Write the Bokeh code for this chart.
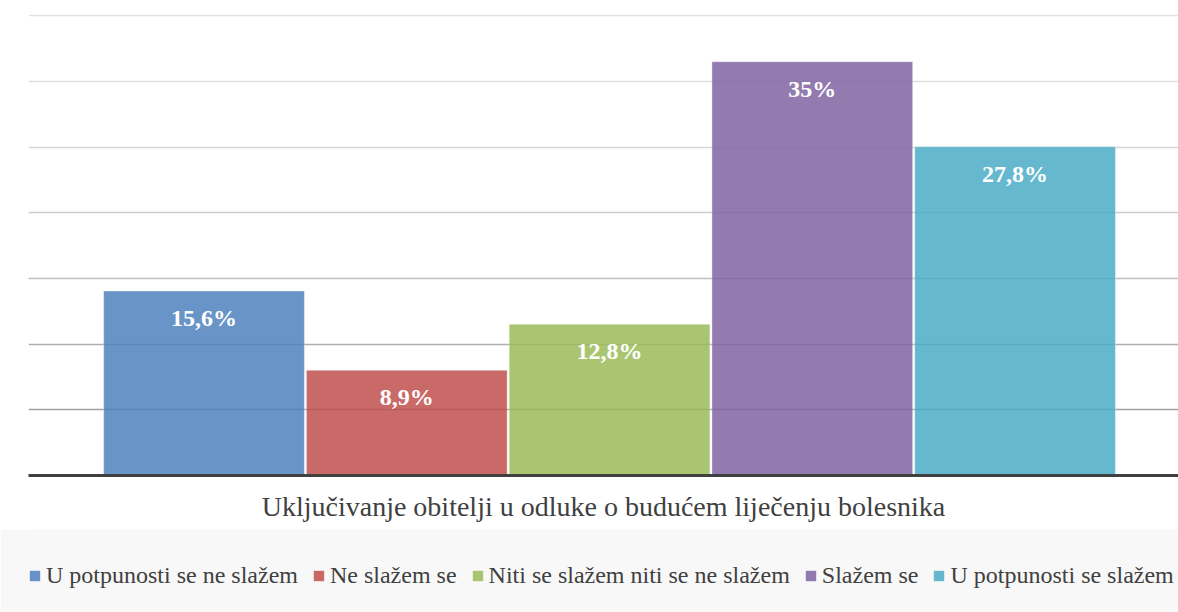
from bokeh.plotting import figure
from bokeh.models import ColumnDataSource, Range1d, FixedTicker, Grid
from bokeh.layouts import column
from bokeh.core.properties import value
from bokeh.embed import file_html
from bokeh.resources import INLINE

# ---- data ----
categories = ["U potpunosti se ne slažem", "Ne slažem se", "Niti se slažem niti se ne slažem",
              "Slažem se", "U potpunosti se slažem"]
percents = [15.6, 8.9, 12.8, 35.0, 27.8]
labels = ["15,6%", "8,9%", "12,8%", "35%", "27,8%"]
grid_ticks = [5.56, 11.11, 16.67, 22.22, 27.78, 33.33, 38.89]
title_text = "Uključivanje obitelji u odluke o budućem liječenju bolesnika"

# ---- styles ----
colors = ["#4F81BD", "#C0504D", "#9BBB59", "#8064A2", "#4BACC6"]
grid_colors = ["#a2a2a2", "#aeaeae", "#c0c0c0", "#cccccc", "#d6d6d6", "#dedede", "#e3e3e3"]
SERIF = "Liberation Serif"
TXT = "#404040"

src = ColumnDataSource(dict(x=list(range(len(categories))), y=percents, cat=categories,
                            lab=labels, color=colors))

p = figure(width=1178, height=529, output_backend="svg", toolbar_location=None,
           x_range=Range1d(-0.8656, 4.806), y_range=Range1d(0, 39.5),
           y_axis_location=None,
           min_border_left=28, min_border_right=0, min_border_top=8, min_border_bottom=54)
p.outline_line_color = None
p.xgrid.visible = False
p.ygrid.visible = False

for t, c in zip(grid_ticks, grid_colors):
    g = Grid(dimension=1, ticker=FixedTicker(ticks=[t]), grid_line_color=c, grid_line_width=1.5)
    p.add_layout(g)

p.vbar(x="x", top="y", width=0.99, source=src, fill_color="color", fill_alpha=0.85,
       line_color="white", line_alpha=0.35, line_width=1)

p.text(x="x", y="y", text="lab", source=src, y_offset=27, text_align="center",
       text_baseline="middle", text_color="white", text_font=value(SERIF),
       text_font_style="bold", text_font_size="24px")

ax = p.xaxis[0]
ax.ticker = FixedTicker(ticks=[])
ax.axis_line_width = 3
ax.axis_line_color = TXT
ax.major_tick_line_color = None
ax.minor_tick_line_color = None
ax.major_label_text_font_size = "0px"
ax.axis_label = title_text
ax.axis_label_text_font = SERIF
ax.axis_label_text_font_style = "normal"
ax.axis_label_text_font_size = "28px"
ax.axis_label_text_color = TXT
ax.axis_label_standoff = 15

# legend strip (separate figure below; its bar renderer is hidden, only the legend shows)
p2 = figure(width=1178, height=83, output_backend="svg", toolbar_location=None,
            x_range=Range1d(-0.8656, 4.806), y_range=Range1d(-100, -90),
            x_axis_location=None, y_axis_location=None,
            min_border_left=28, min_border_right=0, min_border_top=0, min_border_bottom=0)
p2.grid.visible = False
p2.outline_line_color = None
p2.background_fill_color = "#f8f8f8"
p2.border_fill_color = "#f8f8f8"
lr = p2.vbar(x="x", top="y", width=0.99, source=src, fill_color="color", fill_alpha=0.85,
             line_color=None, legend_field="cat")
lr.visible = False

leg = p2.legend[0]
leg.orientation = "horizontal"
leg.location = (0, 23)
leg.padding = 0
leg.margin = 0
leg.spacing = 14
leg.glyph_width = 13
leg.glyph_height = 13
leg.label_standoff = 5
leg.label_text_font = SERIF
leg.label_text_font_size = "24px"
leg.label_text_color = TXT
leg.background_fill_alpha = 0
leg.border_line_color = None
leg.inactive_fill_alpha = 0

layout = column(p, p2, spacing=0)
open("out.html", "w").write(file_html(layout, INLINE))
